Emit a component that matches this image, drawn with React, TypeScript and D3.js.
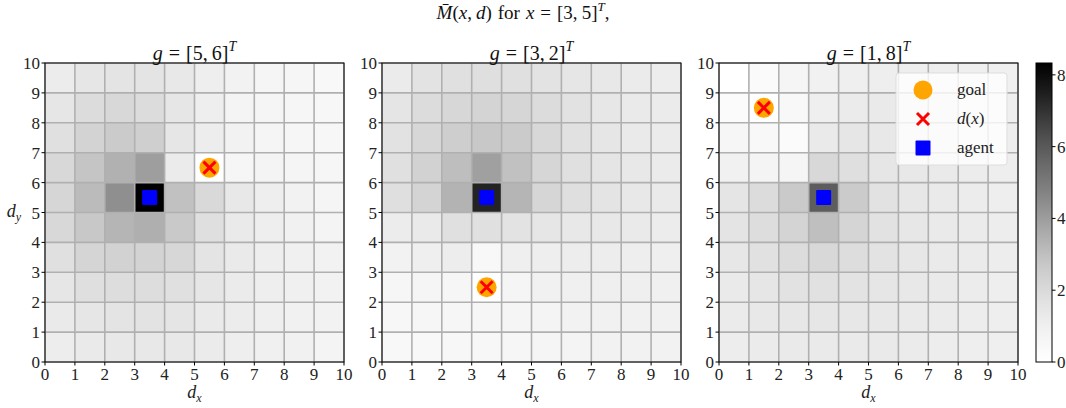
import React from 'react';
import * as d3 from 'd3';

// Heatmap values, rows listed from d_y = 9 (top) down to d_y = 0, columns d_x = 0..9
const panel1Values: number[][] = [
  [1.18, 1.49, 1.58, 1.58, 1.40, 1.09, 0.83, 0.69, 0.62, 0.49],
  [1.49, 1.94, 2.08, 1.94, 1.49, 1.09, 0.76, 0.69, 0.62, 0.56],
  [1.76, 2.30, 2.60, 2.45, 1.49, 1.13, 0.83, 0.69, 0.62, 0.56],
  [2.08, 2.79, 3.44, 3.95, 1.22, 0.00, 0.62, 0.76, 0.69, 0.62],
  [2.19, 3.12, 4.38, 8.33, 2.93, 2.03, 1.40, 1.09, 0.83, 0.69],
  [2.08, 2.71, 3.31, 3.49, 2.67, 1.81, 1.31, 1.09, 0.90, 0.76],
  [1.76, 2.23, 2.34, 2.30, 2.12, 1.58, 1.27, 1.09, 0.97, 0.83],
  [1.49, 1.81, 1.90, 1.90, 1.76, 1.49, 1.22, 1.09, 0.97, 0.83],
  [1.31, 1.49, 1.58, 1.63, 1.54, 1.31, 1.18, 1.04, 0.90, 0.83],
  [1.13, 1.31, 1.36, 1.40, 1.36, 1.22, 1.09, 0.97, 0.90, 0.76],
];
const panel2Values: number[][] = [
  [1.22, 1.63, 1.76, 1.81, 1.76, 1.63, 1.49, 1.36, 1.22, 1.13],
  [1.54, 1.94, 2.12, 2.26, 2.19, 1.94, 1.67, 1.45, 1.31, 1.22],
  [1.67, 2.15, 2.49, 2.71, 2.60, 2.08, 1.72, 1.49, 1.31, 1.22],
  [1.76, 2.34, 3.05, 3.90, 2.93, 2.19, 1.76, 1.54, 1.36, 1.22],
  [1.81, 2.26, 3.36, 7.38, 3.31, 2.19, 1.81, 1.58, 1.40, 1.27],
  [1.18, 1.31, 1.76, 1.76, 1.63, 1.49, 1.40, 1.36, 1.27, 1.18],
  [0.83, 1.04, 1.13, 0.49, 1.04, 1.09, 1.13, 1.13, 1.09, 1.04],
  [0.62, 0.69, 0.62, 0.00, 0.69, 0.90, 0.97, 1.04, 1.04, 0.97],
  [0.56, 0.62, 0.62, 0.62, 0.69, 0.76, 0.83, 0.90, 0.90, 0.90],
  [0.49, 0.49, 0.56, 0.56, 0.62, 0.69, 0.76, 0.83, 0.83, 0.83],
];
const panel3Values: number[][] = [
  [0.00, 0.35, 0.69, 0.90, 1.04, 1.09, 1.09, 1.09, 1.04, 0.97],
  [0.28, 0.00, 0.49, 1.04, 1.22, 1.27, 1.22, 1.18, 1.09, 1.04],
  [0.62, 0.49, 0.28, 1.31, 1.49, 1.40, 1.31, 1.22, 1.13, 1.09],
  [0.90, 0.76, 0.69, 2.08, 1.81, 1.49, 1.36, 1.27, 1.18, 1.09],
  [1.54, 1.94, 2.64, 5.87, 2.60, 1.67, 1.45, 1.31, 1.18, 1.09],
  [1.58, 1.90, 2.26, 3.01, 2.23, 1.67, 1.45, 1.31, 1.22, 1.13],
  [1.45, 1.72, 1.94, 2.08, 1.90, 1.63, 1.45, 1.31, 1.22, 1.13],
  [1.31, 1.49, 1.67, 1.72, 1.63, 1.49, 1.36, 1.27, 1.18, 1.09],
  [1.22, 1.36, 1.45, 1.49, 1.45, 1.40, 1.31, 1.22, 1.13, 1.09],
  [1.13, 1.22, 1.27, 1.31, 1.31, 1.27, 1.22, 1.13, 1.09, 1.04],
];
const panelValues = [panel1Values, panel2Values, panel3Values];
const goalLabels = ['[5,\u20096]', '[3,\u20092]', '[1,\u20098]'];
const goals: [number, number][] = [[5, 6], [3, 2], [1, 8]];
const agentCell: [number, number] = [3, 5];
const axisTicks = d3.range(0, 11);
const colorbarTicks = [0, 2, 4, 6, 8];
const legendLabels = ['goal', 'd(x)', 'agent'];

const W = 1066;
const H = 408;
const panelLefts = [45, 382, 719];
const panelSize = 299;
const top = 63;
const bottom = top + panelSize;
const FONT = "'Liberation Serif', 'DejaVu Serif', serif";
const TICK = 17;

const vmax = d3.max(panelValues.flat().flat()) as number;
const color = d3.scaleSequential(d3.interpolateGreys).domain([0, vmax]);

function Panel({ idx }: { idx: number }) {
  const left = panelLefts[idx];
  const x = d3.scaleLinear().domain([0, 10]).range([left, left + panelSize]);
  const y = d3.scaleLinear().domain([0, 10]).range([bottom, top]);
  const values = panelValues[idx];
  const [gx, gy] = goals[idx];
  const cx = x(gx + 0.5);
  const cy = y(gy + 0.5);
  const ax = x(agentCell[0] + 0.5);
  const ay = y(agentCell[1] + 0.5);
  const xs = 6;
  return (
    <g>
      {values.map((row, r) =>
        row.map((v, c) => {
          const yy = 9 - r;
          return (
            <rect
              key={`${r}-${c}`}
              x={x(c)}
              y={y(yy + 1)}
              width={x(c + 1) - x(c)}
              height={y(yy) - y(yy + 1)}
              fill={color(v)}
            />
          );
        })
      )}
      {axisTicks.map((t) => (
        <g key={`g${t}`}>
          <line x1={x(t)} x2={x(t)} y1={top} y2={bottom} stroke="#b0b0b0" strokeWidth={1.6} />
          <line x1={left} x2={left + panelSize} y1={y(t)} y2={y(t)} stroke="#b0b0b0" strokeWidth={1.6} />
        </g>
      ))}
      <circle cx={cx} cy={cy} r={10} fill="orange" />
      <path
        d={`M${cx - xs},${cy - xs}L${cx + xs},${cy + xs}M${cx - xs},${cy + xs}L${cx + xs},${cy - xs}`}
        stroke="red"
        strokeWidth={3}
      />
      <rect x={ax - 7.5} y={ay - 7.5} width={15} height={15} fill="blue" rx={1} />
      <rect x={left} y={top} width={panelSize} height={panelSize} fill="none" stroke="#000" strokeWidth={1} />
      {axisTicks.map((t) => (
        <g key={`t${t}`}>
          <line x1={x(t)} x2={x(t)} y1={bottom} y2={bottom + 3.5} stroke="#000" />
          <text x={x(t)} y={bottom + 18} textAnchor="middle" fontFamily={FONT} fontSize={TICK} fill="#222">
            {t}
          </text>
          <line x1={left - 3.5} x2={left} y1={y(t)} y2={y(t)} stroke="#000" />
          <text x={left - 5} y={y(t) + 6} textAnchor="end" fontFamily={FONT} fontSize={TICK} fill="#222">
            {t}
          </text>
        </g>
      ))}
      <text x={left + panelSize / 2} y={bottom + 36} textAnchor="middle" fontFamily={FONT} fontSize={18} fill="#222">
        <tspan fontStyle="italic">d</tspan>
        <tspan fontStyle="italic" fontSize={12} dy={4}>x</tspan>
      </text>
      <text x={left + panelSize / 2} y={top - 3} textAnchor="middle" fontFamily={FONT} fontSize={20} fill="#111">
        <tspan fontStyle="italic">g</tspan>
        <tspan dx={6}>=</tspan>
        <tspan dx={6}>{goalLabels[idx]}</tspan>
        <tspan fontStyle="italic" fontSize={14} dy={-9}>T</tspan>
      </text>
    </g>
  );
}

function Legend() {
  const lx = 896;
  const ly = 73;
  const lw = 111;
  const lh = 92;
  const rowY = [90, 119, 148];
  const mx = 923;
  return (
    <g>
      <rect x={lx} y={ly} width={lw} height={lh} rx={3} fill="white" fillOpacity={0.8} stroke="#ddd" strokeWidth={1} />
      <circle cx={mx} cy={rowY[0]} r={9.5} fill="orange" />
      <path
        d={`M${mx - 6},${rowY[1] - 6}L${mx + 6},${rowY[1] + 6}M${mx - 6},${rowY[1] + 6}L${mx + 6},${rowY[1] - 6}`}
        stroke="red"
        strokeWidth={3}
      />
      <rect x={mx - 7.5} y={rowY[2] - 7.5} width={15} height={15} fill="blue" rx={1} />
      <text x={957} y={rowY[0] + 5} fontFamily={FONT} fontSize={17} fill="#222">{legendLabels[0]}</text>
      <text x={957} y={rowY[1] + 5} fontFamily={FONT} fontSize={17} fill="#222">
        <tspan fontStyle="italic">d</tspan>(<tspan fontStyle="italic">x</tspan>)
      </text>
      <text x={957} y={rowY[2] + 5} fontFamily={FONT} fontSize={17} fill="#222">{legendLabels[2]}</text>
    </g>
  );
}

function Colorbar() {
  const cbx = 1036;
  const cbw = 16;
  const cy = d3.scaleLinear().domain([0, vmax]).range([bottom, top]);
  const stops = d3.range(0, 1.0001, 0.05);
  return (
    <g>
      <defs>
        <linearGradient id="cbgrad" x1="0" y1="1" x2="0" y2="0">
          {stops.map((s) => (
            <stop key={s} offset={`${s * 100}%`} stopColor={d3.interpolateGreys(s)} />
          ))}
        </linearGradient>
      </defs>
      <rect x={cbx} y={top} width={cbw} height={panelSize} fill="url(#cbgrad)" stroke="#000" strokeWidth={1} />
      {colorbarTicks.map((t) => (
        <g key={t}>
          <line x1={cbx + cbw} x2={cbx + cbw + 3.5} y1={cy(t)} y2={cy(t)} stroke="#000" />
          <text x={cbx + cbw + 5} y={cy(t) + 6} fontFamily={FONT} fontSize={TICK} fill="#222">{t}</text>
        </g>
      ))}
    </g>
  );
}

export default function App() {
  return (
    <svg width={W} height={H} style={{ position: 'absolute', left: 0, top: 0, background: '#fff' }}>
      <rect width={W} height={H} fill="#fff" />
      <text x={523} y={19} textAnchor="middle" fontFamily={FONT} fontSize={19} fill="#111">
        <tspan fontStyle="italic">M̄</tspan>
        <tspan>(</tspan>
        <tspan fontStyle="italic">x</tspan>
        <tspan>,</tspan>
        <tspan fontStyle="italic" dx={4}>d</tspan>
        <tspan>)</tspan>
        <tspan dx={6}>for</tspan>
        <tspan fontStyle="italic" dx={6}>x</tspan>
        <tspan dx={6}>=</tspan>
        <tspan dx={6}>[3,</tspan>
        <tspan dx={4}>5]</tspan>
        <tspan fontStyle="italic" fontSize={13} dy={-8}>T</tspan>
        <tspan dy={8}>,</tspan>
      </text>
      {[0, 1, 2].map((i) => (
        <Panel key={i} idx={i} />
      ))}
      <text x={14} y={217} textAnchor="middle" fontFamily={FONT} fontSize={18} fill="#222">
        <tspan fontStyle="italic">d</tspan>
        <tspan fontStyle="italic" fontSize={12} dy={4}>y</tspan>
      </text>
      <Legend />
      <Colorbar />
    </svg>
  );
}
